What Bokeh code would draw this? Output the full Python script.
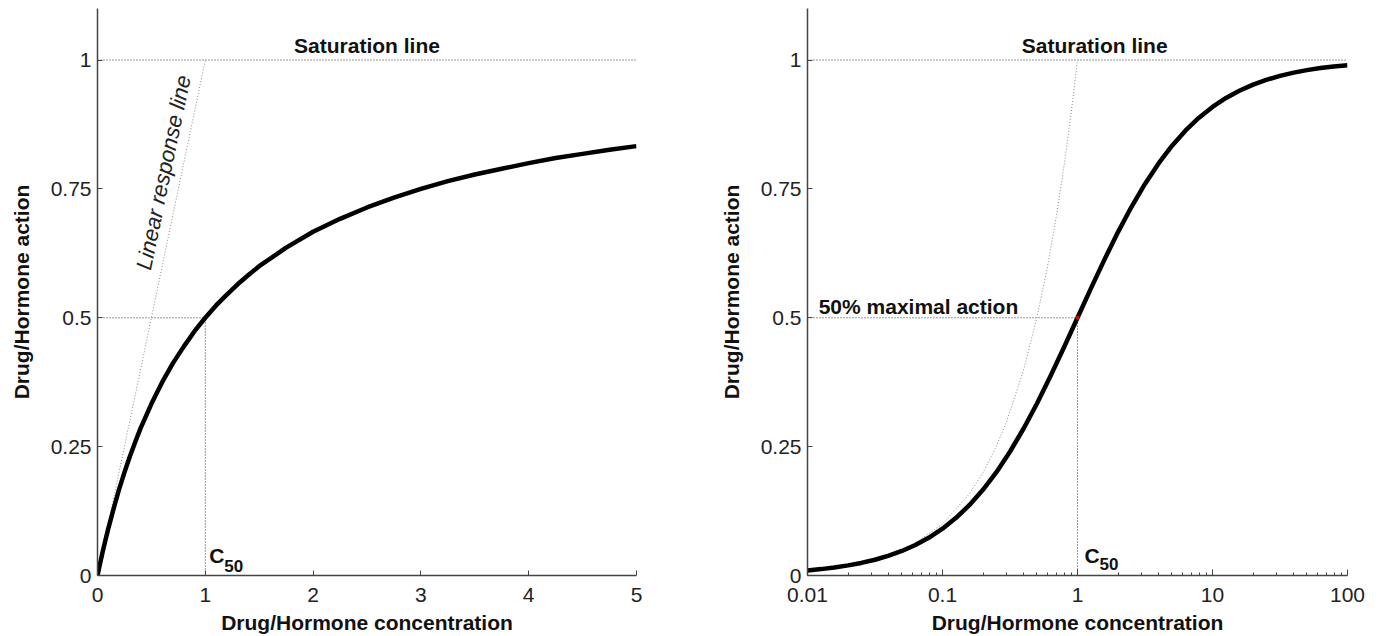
from bokeh.plotting import figure
from bokeh.layouts import row
from bokeh.models import Range1d, FixedTicker
from bokeh.core.properties import value
from bokeh.embed import file_html
from bokeh.resources import INLINE

# ---------------- data ----------------
# Left panel: linear concentration axis
lin_conc = [0, 0.025, 0.05, 0.075, 0.1, 0.15, 0.2, 0.25, 0.3, 0.35, 0.4, 0.5,
            0.6, 0.7, 0.8, 0.9, 1.0, 1.1, 1.2, 1.3, 1.4, 1.5, 1.75, 2.0, 2.25,
            2.5, 2.75, 3.0, 3.25, 3.5, 3.75, 4.0, 4.25, 4.5, 4.75, 5.0]
lin_action = [0, 0.024, 0.048, 0.070, 0.091, 0.130, 0.167, 0.2, 0.231, 0.259,
              0.286, 0.333, 0.375, 0.412, 0.444, 0.474, 0.5, 0.524, 0.545,
              0.565, 0.583, 0.6, 0.636, 0.667, 0.692, 0.714, 0.733, 0.75,
              0.765, 0.778, 0.789, 0.8, 0.81, 0.818, 0.826, 0.833]
lin_resp_x = [0, 1.0]
lin_resp_y = [0, 1.0]

# Right panel: log concentration axis
log_conc = [0.01, 0.0126, 0.0158, 0.02, 0.025, 0.0316, 0.04, 0.05, 0.063,
            0.079, 0.1, 0.126, 0.158, 0.2, 0.25, 0.316, 0.4, 0.5, 0.63, 0.79,
            1.0, 1.26, 1.58, 2.0, 2.5, 3.16, 4.0, 5.0, 6.3, 7.9, 10, 12.6,
            15.8, 20, 25, 31.6, 40, 50, 63, 79, 100]
log_action = [0.0099, 0.0124, 0.0156, 0.0196, 0.0244, 0.0306, 0.0385, 0.0476,
              0.0593, 0.0732, 0.0909, 0.1119, 0.1364, 0.1667, 0.2, 0.2401,
              0.2857, 0.3333, 0.3865, 0.4413, 0.5, 0.5575, 0.6124, 0.6667,
              0.7143, 0.7596, 0.8, 0.8333, 0.863, 0.8876, 0.9091, 0.9265,
              0.9405, 0.9524, 0.9615, 0.9693, 0.9756, 0.9804, 0.9844, 0.9875,
              0.9901]
log_resp_x = [0.01, 0.0158, 0.025, 0.04, 0.063, 0.1, 0.158, 0.2, 0.25, 0.3,
              0.4, 0.5, 0.6, 0.7, 0.8, 0.9, 1.0]
log_resp_y = [0.01, 0.0158, 0.025, 0.04, 0.063, 0.1, 0.158, 0.2, 0.25, 0.3,
              0.4, 0.5, 0.6, 0.7, 0.8, 0.9, 1.0]

saturation = 1.0
half_action = 0.5
c50 = 1.0

y_ticks = [0, 0.25, 0.5, 0.75, 1]
y_tick_labels = ["0", "0.25", "0.5", "0.75", "1"]
lin_x_ticks = [0, 1, 2, 3, 4, 5]
lin_x_tick_labels = ["0", "1", "2", "3", "4", "5"]
log_x_ticks = [0.01, 0.1, 1, 10, 100]
log_x_tick_labels = ["0.01", "0.1", "1", "10", "100"]
log_minor = [m * d for d in (0.01, 0.1, 1, 10) for m in range(2, 10)]

x_label = "Drug/Hormone concentration"
y_label = "Drug/Hormone action"

FONT = "Liberation Sans"
H = 636


def style(p):
    p.outline_line_color = None
    p.grid.visible = False
    p.background_fill_color = "white"
    p.border_fill_color = "white"
    for ax in (p.xaxis[0], p.yaxis[0]):
        ax.axis_line_color = "#444444"
        ax.axis_line_width = 1.5
        ax.major_tick_line_color = "#444444"
        ax.minor_tick_line_color = "#444444"
        ax.major_tick_in = 5
        ax.major_tick_out = 0
        ax.minor_tick_in = 3
        ax.minor_tick_out = 0
        ax.major_label_text_font = FONT
        ax.major_label_text_font_size = "21px"
        ax.major_label_text_color = "#222222"
        ax.axis_label_text_font = FONT
        ax.axis_label_text_font_size = "21px"
        ax.axis_label_text_font_style = "bold"
        ax.axis_label_text_color = "#111111"
    p.xaxis[0].major_label_standoff = 12
    p.xaxis[0].axis_label_standoff = 6
    p.yaxis[0].major_label_standoff = 6
    p.yaxis[0].axis_label_standoff = 15
    p.yaxis[0].ticker = FixedTicker(ticks=y_ticks)
    p.yaxis[0].major_label_overrides = dict(zip(y_ticks, y_tick_labels))
    p.xaxis[0].axis_label = x_label
    p.yaxis[0].axis_label = y_label


GUIDE = dict(line_color="#333333", line_width=1, line_dash="1 2")
RESP = dict(line_color="#8a8a8a", line_width=1, line_dash="1 2")
TXT = dict(text_font=value(FONT), text_font_size="21px", text_font_style="bold",
           text_color="#111111")

# ---------------- left panel ----------------
p1 = figure(width=680, height=H, output_backend="svg", toolbar_location=None,
            x_range=Range1d(0, 5), y_range=Range1d(0, 1.1),
            min_border_left=97, min_border_right=44, min_border_top=8,
            min_border_bottom=59)
style(p1)
p1.xaxis[0].ticker = FixedTicker(ticks=lin_x_ticks)
p1.xaxis[0].major_label_overrides = dict(zip(lin_x_ticks, lin_x_tick_labels))

p1.line([0, lin_conc[-1]], [saturation, saturation], **GUIDE)
p1.line([0, c50], [half_action, half_action], **GUIDE)
p1.line([c50, c50], [0, half_action], **GUIDE)
p1.line(lin_resp_x, lin_resp_y, **RESP)
p1.line(lin_conc, lin_action, line_color="black", line_width=4.5,
        line_join="round")

p1.text([2.5], [1.028], text=["Saturation line"], text_align="center",
        text_baseline="alphabetic", **TXT)
p1.text([0.612], [0.782], text=["Linear response line"], angle=78.3,
        angle_units="deg", text_align="center", text_baseline="middle",
        text_font=value(FONT), text_font_size="22px", text_font_style="italic",
        text_color="#222222")
p1.text([c50], [0.039], text=["C"], x_offset=4, text_align="left",
        text_baseline="alphabetic", **TXT)
p1.text([c50], [0.019], text=["50"], x_offset=19, text_align="left",
        text_baseline="alphabetic", text_font=value(FONT), text_font_size="17px",
        text_font_style="bold", text_color="#111111")

# ---------------- right panel ----------------
p2 = figure(width=699, height=H, output_backend="svg", toolbar_location=None,
            x_axis_type="log", x_range=Range1d(0.01, 100), y_range=Range1d(0, 1.1),
            min_border_left=127, min_border_right=32, min_border_top=8,
            min_border_bottom=59)
style(p2)
p2.xaxis[0].ticker = FixedTicker(ticks=log_x_ticks, minor_ticks=log_minor)
p2.xaxis[0].major_label_overrides = dict(zip(log_x_ticks, log_x_tick_labels))
p2.xaxis[0].major_tick_in = 6

p2.line([0.01, 100], [saturation, saturation], **GUIDE)
p2.line([0.01, c50], [half_action, half_action], **GUIDE)
p2.line([c50, c50], [0, half_action], **GUIDE)
p2.line(log_resp_x, log_resp_y, **RESP)
p2.line(log_conc, log_action, line_color="black", line_width=4.5,
        line_join="round")
p2.scatter([c50], [half_action], size=3, color="#d01010")

p2.text([1.34], [1.028], text=["Saturation line"], text_align="center",
        text_baseline="alphabetic", **TXT)
p2.text([0.0121], [0.522], text=["50% maximal action"], text_align="left",
        text_baseline="alphabetic", **TXT)
p2.text([c50], [0.039], text=["C"], x_offset=7, text_align="left",
        text_baseline="alphabetic", **TXT)
p2.text([c50], [0.022], text=["50"], x_offset=22, text_align="left",
        text_baseline="alphabetic", text_font=value(FONT), text_font_size="17px",
        text_font_style="bold", text_color="#111111")

layout = row(p1, p2)
open("out.html", "w").write(file_html(layout, INLINE))
